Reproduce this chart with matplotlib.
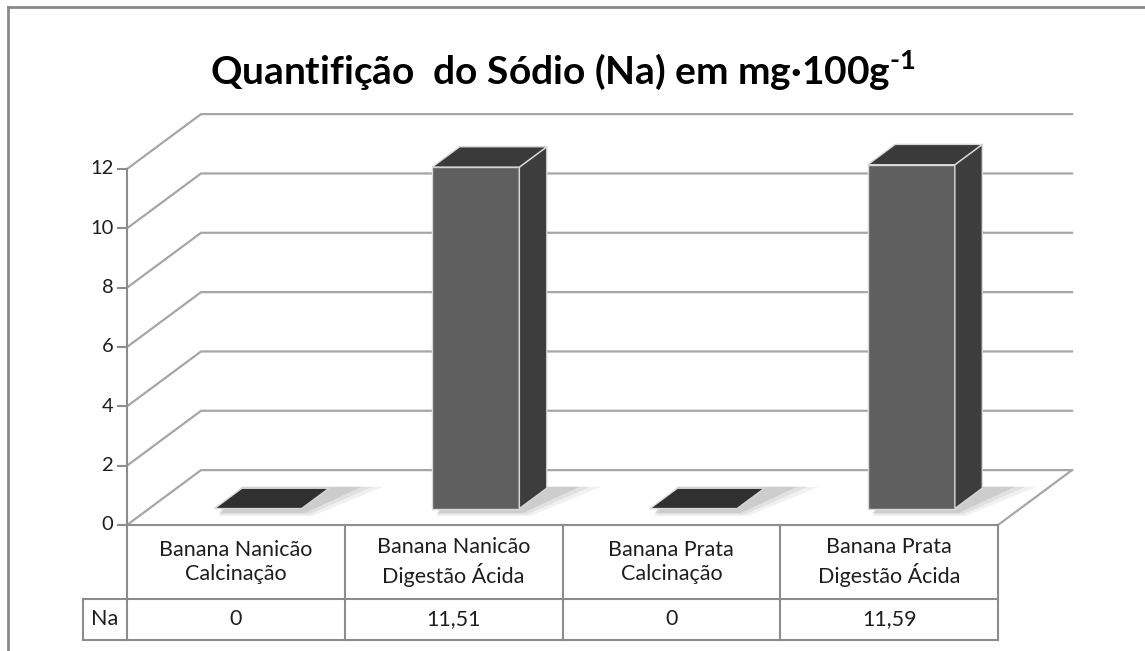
import numpy as np
import matplotlib.pyplot as plt
from matplotlib.patches import Polygon, Rectangle
from matplotlib.lines import Line2D

plt.rcParams['font.family'] = ['Lato', 'DejaVu Sans']
plt.rcParams['mathtext.fontset'] = 'custom'
plt.rcParams['mathtext.rm'] = 'Lato:bold'

# data
categories = ["Banana Nanicão\nCalcinação", "Banana Nanicão\nDigestão Ácida",
              "Banana Prata\nCalcinação", "Banana Prata\nDigestão Ácida"]
values = [0, 11.51, 0, 11.59]
value_labels = ["0", "11,51", "0", "11,59"]
series_name = "Na"
yticks = [0, 2, 4, 6, 8, 10, 12]
title = "Quantifição  do Sódio (Na) em mg·100g$^{\\text{-1}}$"

# 3d look, in data units
DX, DY = 0.34, 1.85     # depth of the box
F0, F1 = 0.30, 0.67     # where the bars sit in depth
BW = 0.40               # bar width
GRID = '#a6a6a6'
LINE = '#8c8c8c'
TXT = '#1e1e1e'

fig = plt.figure(figsize=(11.45, 6.51), dpi=100)
ax = fig.add_axes([127 / 1145, 126 / 651, 871 / 1145, 356 / 651])
ax.set_xlim(0, len(values))
ax.set_ylim(0, 12)
ax.axis('off')
n = len(values)

# walls and floor
for v in yticks:
    ax.plot([0, DX, n + DX], [v, v + DY, v + DY], color=GRID, lw=1.6, clip_on=False, zorder=1)
ax.plot([n, n + DX], [0, DY], color=GRID, lw=1.6, clip_on=False, zorder=1)

# value axis
ax.plot([0, 0], [0, yticks[-1]], color=LINE, lw=1.5, clip_on=False, zorder=2)
for v in yticks:
    ax.plot([-0.042, 0], [v, v], color=LINE, lw=1.5, clip_on=False, zorder=2)
    ax.text(-0.062, v, str(v), ha='right', va='center', fontsize=14.5, color=TXT)

# bars
dd = F1 - F0
for i, v in enumerate(values):
    x0 = i + 0.5 - BW / 2 + F0 * DX
    y0 = F0 * DY
    xr = x0 + BW
    # soft shadow on the floor
    for k, a in enumerate([0.08, 0.10, 0.14]):
        g = 0.05 * (3 - k)
        sh = Polygon([(x0 + 0.02, y0 - 0.1 - g), (xr + g / 3, y0 - 0.1 - g),
                      (xr + dd * DX + 0.1 + g, y0 + dd * DY + 0.05),
                      (x0 + dd * DX, y0 + dd * DY + 0.05)],
                     closed=True, facecolor='#555555', edgecolor='none', alpha=a,
                     clip_on=False, zorder=2)
        ax.add_patch(sh)
    if v > 0:
        front = Rectangle((x0, y0), BW, v, facecolor='#5f5f5f', edgecolor='#d8d8d8',
                          lw=1, clip_on=False, zorder=3)
        ax.add_patch(front)
        side = Polygon([(xr, y0), (xr + dd * DX, y0 + dd * DY),
                        (xr + dd * DX, y0 + dd * DY + v), (xr, y0 + v)],
                       closed=True, facecolor='#3d3d3d', edgecolor='#d8d8d8', lw=1,
                       clip_on=False, zorder=3)
        ax.add_patch(side)
    top = Polygon([(x0, y0 + v), (xr, y0 + v), (xr + dd * DX, y0 + dd * DY + v),
                   (x0 + dd * DX, y0 + dd * DY + v)],
                  closed=True, facecolor='#3a3a3a' if v > 0 else '#303030',
                  edgecolor='#d8d8d8', lw=1, clip_on=False, zorder=3)
    ax.add_patch(top)

# data table under the chart
row1, row2 = -2.49, -3.87
lab_x = -0.202
ax.plot([0, n], [0, 0], color=LINE, lw=1.5, clip_on=False)
ax.plot([lab_x, n], [row1, row1], color=LINE, lw=1.5, clip_on=False)
ax.plot([lab_x, n], [row2, row2], color=LINE, lw=1.5, clip_on=False)
for i in range(n + 1):
    ax.plot([i, i], [0, row2], color=LINE, lw=1.5, clip_on=False)
ax.plot([lab_x, lab_x], [row1, row2], color=LINE, lw=1.5, clip_on=False)
for i, c in enumerate(categories):
    ax.text(i + 0.5, row1 / 2, c, ha='center', va='center', fontsize=15.5,
            color=TXT, linespacing=1.3)
    ax.text(i + 0.5, (row1 + row2) / 2, value_labels[i], ha='center', va='center',
            fontsize=15.5, color=TXT)
ax.text(lab_x / 2, (row1 + row2) / 2, series_name, ha='center', va='center',
        fontsize=15.5, color=TXT)

# title
fig.text(0.492, 1 - 70 / 651, title, ha='center', va='center', fontsize=28,
         fontweight='bold', color='black')

# chart area frame (only left and top edges are visible)
fig.add_artist(Line2D([8 / 1145, 8 / 1145], [0, 1 - 7 / 651], color='#8a8a8a', lw=2))
fig.add_artist(Line2D([8 / 1145, 1], [1 - 7 / 651, 1 - 7 / 651], color='#8a8a8a', lw=2))

fig.savefig('out.png', dpi=100)
